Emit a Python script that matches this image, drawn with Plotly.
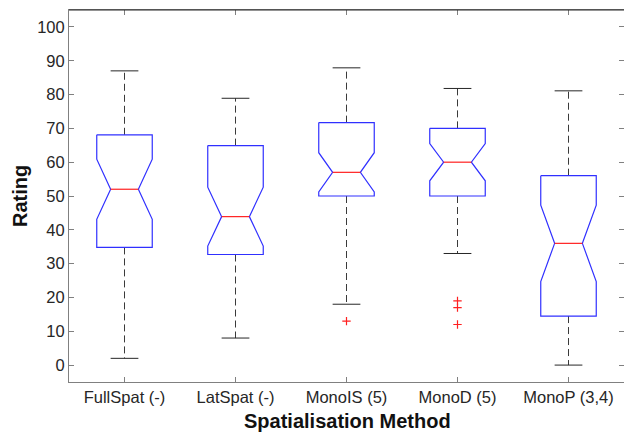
import plotly.graph_objects as go

# ---- data ----
categories = ["FullSpat (-)", "LatSpat (-)", "MonoIS (5)", "MonoD (5)", "MonoP (3,4)"]
q1 = [34.8, 32.7, 50.0, 50.0, 14.5]
median = [52.0, 43.9, 57.0, 60.0, 36.0]
q3 = [68.1, 64.9, 71.7, 70.0, 56.0]
notch_span = [8.9, 8.7, 5.8, 5.5, 11.3]
whisker_low = [2.0, 8.0, 18.0, 33.0, 0.0]
whisker_high = [87.0, 78.9, 87.9, 81.8, 81.1]
outliers = [[], [], [13.0], [19.0, 17.0, 12.0], []]
y_ticks = list(range(0, 101, 10))

# ---- styles ----
BOX_HALF = 0.25
NOTCH_HALF = 0.125
CAP_HALF = 0.125
FONT = "Liberation Sans, Arial, Helvetica, sans-serif"
PLOT_L, PLOT_T, PLOT_B = 69, 10, 52
W, H = 624, 434
PW = W - PLOT_L
PH = H - PLOT_T - PLOT_B

positions = list(range(1, len(categories) + 1))

box_x, box_y = [], []
med_x, med_y = [], []
wh_x, wh_y = [], []
cap_x, cap_y = [], []
out_x, out_y = [], []
for p, a, m, b, s, lo, hi, outs in zip(positions, q1, median, q3, notch_span,
                                       whisker_low, whisker_high, outliers):
    nu, nl = m + s, m - s
    pts = [(p - BOX_HALF, b), (p + BOX_HALF, b), (p + BOX_HALF, nu), (p + NOTCH_HALF, m),
           (p + BOX_HALF, nl), (p + BOX_HALF, a), (p - BOX_HALF, a), (p - BOX_HALF, nl),
           (p - NOTCH_HALF, m), (p - BOX_HALF, nu), (p - BOX_HALF, b)]
    box_x += [pt[0] for pt in pts] + [None]
    box_y += [pt[1] for pt in pts] + [None]
    med_x += [p - NOTCH_HALF, p + NOTCH_HALF, None]
    med_y += [m, m, None]
    wh_x += [p, p, None, p, p, None]
    wh_y += [b, hi, None, a, lo, None]
    cap_x += [p - CAP_HALF, p + CAP_HALF, None, p - CAP_HALF, p + CAP_HALF, None]
    cap_y += [hi, hi, None, lo, lo, None]
    out_x += [p] * len(outs)
    out_y += outs

fig = go.Figure()
fig.add_trace(go.Scatter(x=wh_x, y=wh_y, mode="lines", hoverinfo="skip",
                         line=dict(color="#3a3a3a", width=1, dash="7px,4px")))
fig.add_trace(go.Scatter(x=cap_x, y=cap_y, mode="lines", hoverinfo="skip",
                         line=dict(color="#262626", width=1)))
fig.add_trace(go.Scatter(x=box_x, y=box_y, mode="lines", hoverinfo="skip",
                         line=dict(color="#3030ff", width=1.2)))
fig.add_trace(go.Scatter(x=med_x, y=med_y, mode="lines", hoverinfo="skip",
                         line=dict(color="#ff2020", width=1.2)))
fig.add_trace(go.Scatter(x=out_x, y=out_y, mode="markers", hoverinfo="skip",
                         marker=dict(symbol="cross-thin", size=6,
                                     line=dict(color="#ff2020", width=1.2))))

fig.add_shape(type="line", xref="paper", yref="paper", x0=0, x1=1, y0=1, y1=1,
              line=dict(color="#262626", width=1), layer="above")

# axis titles as annotations, positioned like the reference
fig.add_annotation(text="<b>Rating</b>", xref="paper", yref="paper",
                   x=(20 - PLOT_L) / PW, y=0.5, xanchor="center", yanchor="middle",
                   textangle=-90, showarrow=False,
                   font=dict(family=FONT, size=20, color="#111111"))
fig.add_annotation(text="<b>Spatialisation Method</b>", xref="paper", yref="paper",
                   x=(347 - PLOT_L) / PW, y=-(421 - (H - PLOT_B)) / PH,
                   xanchor="center", yanchor="middle", showarrow=False,
                   font=dict(family=FONT, size=20, color="#111111"))

fig.update_layout(
    width=W, height=H,
    margin=dict(l=PLOT_L, r=0, t=PLOT_T, b=PLOT_B, autoexpand=False),
    paper_bgcolor="white", plot_bgcolor="white",
    showlegend=False,
    font=dict(family=FONT, color="#262626", size=16.5),
    xaxis=dict(range=[0.5, 5.5], tickmode="array", tickvals=positions, ticktext=categories,
               ticks="inside", ticklen=5, tickcolor="#808080", showline=True,
               linecolor="#808080", linewidth=1, mirror="ticks", showgrid=False,
               zeroline=False, automargin=False,
               tickfont=dict(size=16.5, color="#262626")),
    yaxis=dict(range=[-5, 105], tickmode="array", tickvals=y_ticks,
               ticks="inside", ticklen=5, tickcolor="#808080", showline=True,
               linecolor="#808080", linewidth=1, mirror="ticks", showgrid=False,
               zeroline=False, automargin=False,
               tickfont=dict(size=16.5, color="#262626")),
)

fig.write_html("out.html", config={"displayModeBar": False},
               post_script="document.body.style.margin='0';document.body.style.overflow='hidden';")
